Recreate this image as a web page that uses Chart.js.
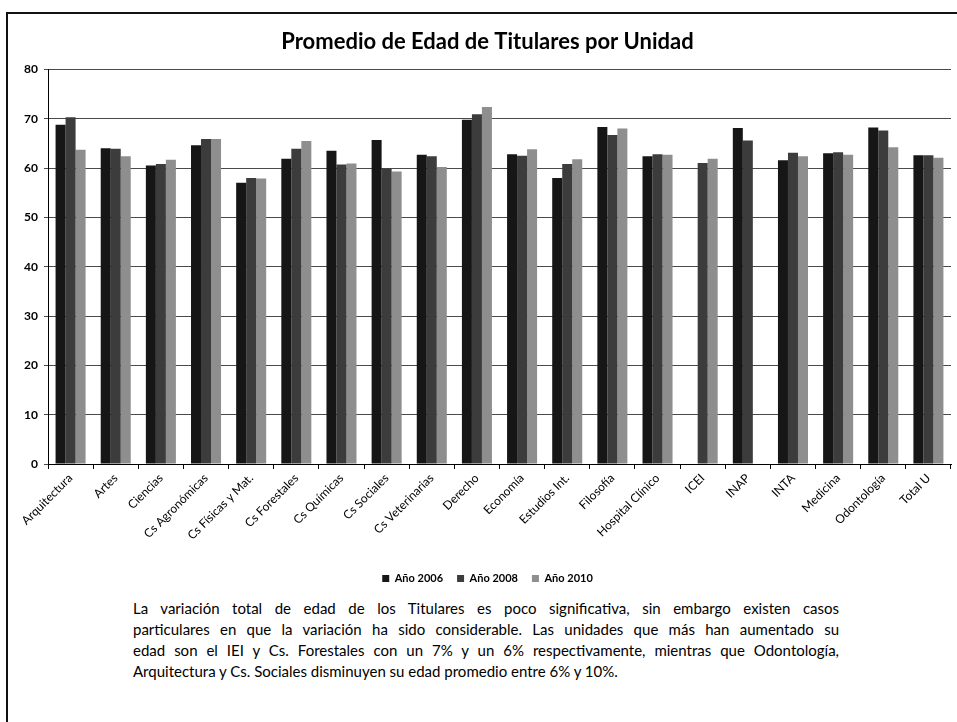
<!DOCTYPE html>
<html>
<head>
<meta charset="utf-8">
<script src="https://cdn.jsdelivr.net/npm/chart.js@4"></script>
<style>
  body { margin: 0; background: #fff; width: 957px; height: 722px; overflow: hidden; position: relative; font-family: Lato, "Open Sans", sans-serif; }
  #frame { position: absolute; left: 6px; top: 12px; width: 1000px; height: 800px; border-left: 2px solid #111; border-top: 2px solid #111; }
  #wrap { position: absolute; left: 0; top: 0; width: 957px; height: 594px; }
  #note { position: absolute; left: 133px; top: 598px; width: 706px; font-size: 15px; line-height: 21px; color: #000; }
  #note div { text-align: justify; text-align-last: justify; white-space: nowrap; }
  #note div.last { text-align-last: left; }
</style>
</head>
<body>
<div id="frame"></div>
<div id="wrap"><canvas id="chart" width="957" height="594"></canvas></div>
<div id="note">
  <div>La variación total de edad de los Titulares es poco significativa, sin embargo existen casos</div>
  <div>particulares en que la variación ha sido considerable. Las unidades que más han aumentado su</div>
  <div>edad son el IEI y Cs. Forestales con un 7% y un 6% respectivamente, mientras que Odontología,</div>
  <div class="last">Arquitectura y Cs. Sociales disminuyen su edad promedio entre 6% y 10%.</div>
</div>
<script>
const unidades = ['Arquitectura', 'Artes', 'Ciencias', 'Cs Agronómicas', 'Cs Físicas y Mat.', 'Cs Forestales',
  'Cs Químicas', 'Cs Sociales', 'Cs Veterinarias', 'Derecho', 'Economía', 'Estudios Int.', 'Filosofía',
  'Hospital Clínico', 'ICEI', 'INAP', 'INTA', 'Medicina', 'Odontología', 'Total U'];

const anio2006 = [68.8, 64.0, 60.5, 64.6, 57.0, 61.9, 63.5, 65.7, 62.7, 69.8, 62.8, 58.0, 68.3, 62.4, null, 68.1, 61.6, 63.0, 68.2, 62.6];
const anio2008 = [70.3, 63.9, 60.8, 65.9, 58.0, 63.9, 60.7, 59.9, 62.4, 70.9, 62.5, 60.8, 66.7, 62.8, 61.0, 65.6, 63.1, 63.2, 67.6, 62.6];
const anio2010 = [63.7, 62.4, 61.7, 65.9, 57.9, 65.5, 60.9, 59.3, 60.2, 72.4, 63.8, 61.8, 68.0, 62.7, 61.9, null, 62.4, 62.7, 64.2, 62.1];

const yTicks = [0, 10, 20, 30, 40, 50, 60, 70, 80];

const ctx = document.getElementById('chart').getContext('2d');
new Chart(ctx, {
  type: 'bar',
  data: {
    labels: unidades,
    datasets: [
      { label: 'Año 2006', data: anio2006, backgroundColor: '#161616' },
      { label: 'Año 2008', data: anio2008, backgroundColor: '#3c3c3c' },
      { label: 'Año 2010', data: anio2010, backgroundColor: '#8e8e8e' }
    ]
  },
  options: {
    responsive: false,
    animation: false,
    datasets: { bar: { categoryPercentage: 0.665, barPercentage: 1.0 } },
    // wide left padding + narrow y axis keeps the title centred like the original
    layout: { padding: { left: 24, right: 6, top: 10, bottom: 0 } },
    scales: {
      y: {
        min: 0,
        max: 80,
        afterBuildTicks: (axis) => { axis.ticks = yTicks.map(v => ({ value: v })); },
        afterFit: (axis) => { axis.width = 24; },
        ticks: { color: '#000', font: { family: 'Lato', size: 12, weight: 'bold' }, padding: 6 },
        grid: { color: '#4a4a4a', lineWidth: 1, tickLength: 4 },
        border: { color: '#000', width: 1 }
      },
      x: {
        afterFit: (axis) => { axis.height = 95; },
        ticks: { color: '#000', font: { family: 'Lato', size: 12 }, minRotation: 45, maxRotation: 45, autoSkip: false, padding: 2 },
        grid: { drawOnChartArea: false, color: '#000', tickLength: 5 },
        border: { color: '#000', width: 1 }
      }
    },
    plugins: {
      title: {
        display: true,
        text: 'Promedio de Edad de Titulares por Unidad',
        color: '#000',
        font: { family: 'Lato', size: 22, weight: 'bold' },
        padding: { top: 19, bottom: 14 }
      },
      legend: {
        position: 'bottom',
        labels: {
          color: '#000',
          font: { family: 'Lato', size: 11, weight: 'bold' },
          boxWidth: 7,
          boxHeight: 7,
          padding: 14
        }
      },
      tooltip: { enabled: false }
    }
  }
});
</script>
</body>
</html>
